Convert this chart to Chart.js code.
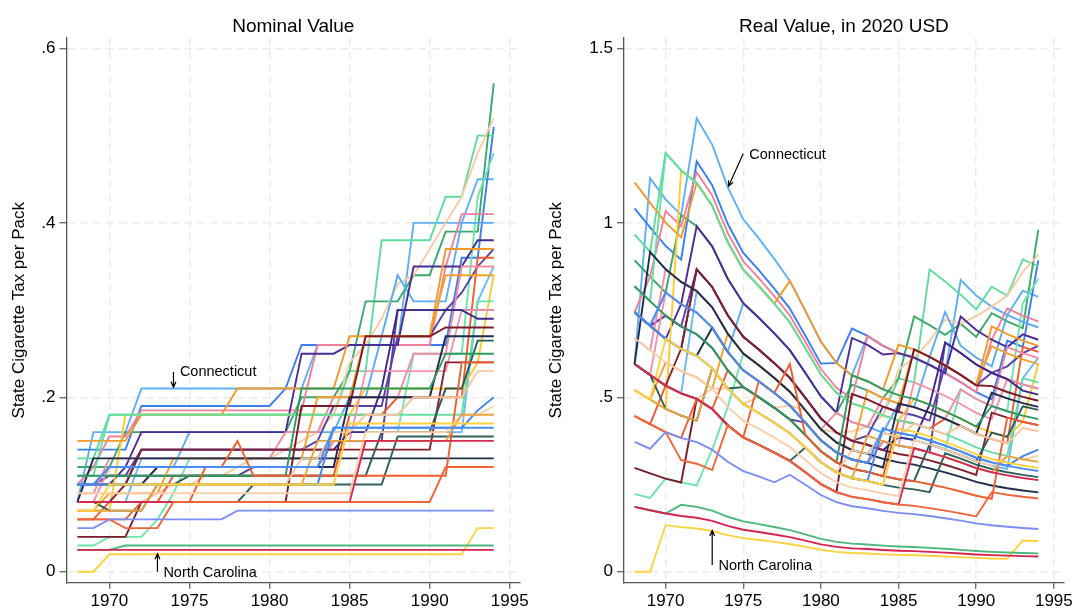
<!DOCTYPE html>
<html>
<head>
<meta charset="utf-8">
<title>State cigarette tax per pack</title>
<script src="https://cdn.jsdelivr.net/npm/chart.js@4.4.1/dist/chart.umd.min.js"></script>
<style>
  html, body { margin: 0; padding: 0; background: #fff; }
  #wrap { position: relative; width: 1075px; height: 612px; }
  canvas { position: absolute; top: 0; }
  #nominal { left: 0; }
  #real { left: 537px; }
</style>
</head>
<body>
<div id="wrap">
  <canvas id="nominal" width="537" height="612"></canvas>
  <canvas id="real" width="538" height="612"></canvas>
</div>
<script>
// ---- data: state cigarette tax per pack, nominal USD, 1968-1994 ----
const years = [1968, 1969, 1970, 1971, 1972, 1973, 1974, 1975, 1976, 1977, 1978, 1979, 1980,
  1981, 1982, 1983, 1984, 1985, 1986, 1987, 1988, 1989, 1990, 1991, 1992, 1993, 1994];

// CPI multiplier to 2020 dollars, same years
const cpiTo2020 = [7.44, 7.05, 6.67, 6.39, 6.19, 5.83, 5.25, 4.81, 4.55, 4.27, 3.97, 3.56, 3.14,
  2.85, 2.68, 2.60, 2.49, 2.41, 2.36, 2.28, 2.19, 2.09, 1.98, 1.90, 1.84, 1.79, 1.75];

const connecticut = [0.08, 0.16, 0.16, 0.16, 0.21, 0.21, 0.21, 0.21, 0.21, 0.21, 0.21, 0.21, 0.21, 0.21, 0.21, 0.26, 0.26, 0.26, 0.26, 0.26, 0.26, 0.40, 0.40, 0.40, 0.40, 0.45, 0.45];
const northCarolina = [0, 0, 0.02, 0.02, 0.02, 0.02, 0.02, 0.02, 0.02, 0.02, 0.02, 0.02, 0.02, 0.02, 0.02, 0.02, 0.02, 0.02, 0.02, 0.02, 0.02, 0.02, 0.02, 0.02, 0.02, 0.05, 0.05];
const st02 = [0.14, 0.14, 0.14, 0.14, 0.19, 0.19, 0.19, 0.19, 0.19, 0.19, 0.19, 0.19, 0.19, 0.21, 0.26, 0.26, 0.26, 0.26, 0.26, 0.26, 0.26, 0.26, 0.26, 0.26, 0.36, 0.36, 0.51];
const st03 = [0.13, 0.13, 0.18, 0.18, 0.18, 0.18, 0.18, 0.18, 0.18, 0.18, 0.18, 0.18, 0.18, 0.18, 0.18, 0.18, 0.18, 0.23, 0.23, 0.38, 0.38, 0.38, 0.38, 0.43, 0.43, 0.50, 0.50];
const st04 = [0.12, 0.12, 0.12, 0.16, 0.16, 0.16, 0.16, 0.16, 0.16, 0.16, 0.16, 0.16, 0.16, 0.16, 0.20, 0.20, 0.20, 0.23, 0.31, 0.31, 0.31, 0.34, 0.34, 0.39, 0.39, 0.39, 0.56];
const st05 = [0.08, 0.08, 0.08, 0.08, 0.08, 0.09, 0.10, 0.10, 0.11, 0.11, 0.12, 0.13, 0.13, 0.14, 0.15, 0.16, 0.18, 0.24, 0.26, 0.29, 0.33, 0.34, 0.37, 0.40, 0.43, 0.48, 0.52];
const st06 = [0.03, 0.03, 0.04, 0.04, 0.04, 0.06, 0.09, 0.13, 0.13, 0.13, 0.13, 0.13, 0.13, 0.13, 0.13, 0.13, 0.16, 0.16, 0.16, 0.16, 0.16, 0.25, 0.25, 0.25, 0.25, 0.43, 0.48];
const st07 = [0.10, 0.12, 0.155, 0.155, 0.185, 0.185, 0.185, 0.185, 0.185, 0.185, 0.185, 0.185, 0.185, 0.185, 0.185, 0.26, 0.26, 0.26, 0.26, 0.26, 0.26, 0.26, 0.26, 0.35, 0.41, 0.41, 0.41];
const st08 = [0.10, 0.10, 0.12, 0.12, 0.12, 0.12, 0.12, 0.16, 0.16, 0.16, 0.16, 0.16, 0.16, 0.16, 0.16, 0.16, 0.16, 0.20, 0.20, 0.27, 0.34, 0.31, 0.31, 0.31, 0.40, 0.40, 0.40];
const st09 = [0.10, 0.10, 0.10, 0.12, 0.16, 0.16, 0.16, 0.16, 0.16, 0.16, 0.16, 0.16, 0.16, 0.16, 0.25, 0.25, 0.25, 0.26, 0.26, 0.26, 0.26, 0.35, 0.35, 0.35, 0.35, 0.38, 0.38];
const st10 = [0.10, 0.10, 0.11, 0.11, 0.14, 0.14, 0.14, 0.14, 0.14, 0.14, 0.14, 0.14, 0.14, 0.14, 0.14, 0.15, 0.19, 0.19, 0.19, 0.19, 0.27, 0.27, 0.27, 0.30, 0.32, 0.35, 0.37];
const st11 = [0.06, 0.06, 0.08, 0.08, 0.08, 0.08, 0.11, 0.11, 0.11, 0.11, 0.11, 0.11, 0.11, 0.11, 0.11, 0.11, 0.11, 0.18, 0.18, 0.18, 0.20, 0.20, 0.20, 0.20, 0.20, 0.36, 0.36];
const st12 = [0.09, 0.09, 0.13, 0.13, 0.13, 0.13, 0.13, 0.13, 0.13, 0.13, 0.13, 0.13, 0.13, 0.16, 0.16, 0.16, 0.20, 0.20, 0.20, 0.20, 0.20, 0.25, 0.25, 0.25, 0.35, 0.35, 0.35];
const st13 = [0.07, 0.07, 0.07, 0.18, 0.18, 0.18, 0.18, 0.18, 0.18, 0.18, 0.18, 0.18, 0.18, 0.18, 0.18, 0.18, 0.18, 0.18, 0.21, 0.21, 0.21, 0.21, 0.21, 0.21, 0.21, 0.24, 0.34];
const st14 = [0.07, 0.07, 0.09, 0.09, 0.09, 0.09, 0.13, 0.13, 0.13, 0.13, 0.13, 0.13, 0.13, 0.13, 0.13, 0.20, 0.20, 0.20, 0.27, 0.27, 0.27, 0.27, 0.27, 0.34, 0.34, 0.34, 0.34];
const st15 = [0.15, 0.15, 0.15, 0.15, 0.18, 0.18, 0.18, 0.18, 0.18, 0.18, 0.21, 0.21, 0.21, 0.21, 0.21, 0.21, 0.21, 0.27, 0.27, 0.27, 0.27, 0.27, 0.27, 0.37, 0.37, 0.37, 0.37];
const st16 = [0.11, 0.11, 0.18, 0.18, 0.18, 0.18, 0.18, 0.18, 0.18, 0.18, 0.18, 0.18, 0.18, 0.18, 0.18, 0.18, 0.18, 0.18, 0.18, 0.18, 0.18, 0.18, 0.18, 0.18, 0.18, 0.31, 0.31];
const st17 = [0.08, 0.08, 0.12, 0.12, 0.12, 0.12, 0.12, 0.12, 0.12, 0.12, 0.12, 0.12, 0.12, 0.12, 0.12, 0.12, 0.15, 0.15, 0.23, 0.23, 0.23, 0.23, 0.23, 0.23, 0.30, 0.30, 0.30];
const st18 = [0.10, 0.10, 0.10, 0.10, 0.14, 0.14, 0.14, 0.14, 0.14, 0.14, 0.14, 0.14, 0.14, 0.14, 0.14, 0.14, 0.14, 0.16, 0.16, 0.21, 0.30, 0.30, 0.30, 0.30, 0.30, 0.29, 0.29];
const st19 = [0.04, 0.04, 0.04, 0.04, 0.08, 0.08, 0.08, 0.08, 0.08, 0.08, 0.08, 0.08, 0.08, 0.08, 0.19, 0.19, 0.19, 0.19, 0.27, 0.27, 0.27, 0.27, 0.27, 0.28, 0.28, 0.28, 0.28];
const st20 = [0.08, 0.08, 0.08, 0.10, 0.14, 0.14, 0.14, 0.14, 0.14, 0.14, 0.14, 0.14, 0.14, 0.14, 0.14, 0.14, 0.14, 0.14, 0.14, 0.14, 0.14, 0.14, 0.14, 0.24, 0.24, 0.24, 0.24];
const st21 = [0.10, 0.10, 0.10, 0.10, 0.10, 0.12, 0.12, 0.12, 0.12, 0.12, 0.12, 0.12, 0.12, 0.12, 0.12, 0.12, 0.12, 0.20, 0.20, 0.20, 0.20, 0.20, 0.20, 0.27, 0.27, 0.27, 0.27];
const st22 = [0.08, 0.13, 0.13, 0.13, 0.13, 0.13, 0.13, 0.13, 0.13, 0.13, 0.13, 0.13, 0.13, 0.13, 0.13, 0.13, 0.13, 0.13, 0.13, 0.13, 0.13, 0.13, 0.13, 0.13, 0.13, 0.13, 0.13];
const st23 = [0.08, 0.08, 0.07, 0.07, 0.07, 0.10, 0.10, 0.11, 0.11, 0.11, 0.11, 0.11, 0.11, 0.11, 0.11, 0.11, 0.11, 0.11, 0.11, 0.16, 0.16, 0.16, 0.16, 0.21, 0.21, 0.265, 0.265];
const st24 = [0.08, 0.08, 0.08, 0.08, 0.08, 0.08, 0.08, 0.08, 0.08, 0.08, 0.08, 0.10, 0.10, 0.10, 0.10, 0.10, 0.10, 0.10, 0.10, 0.10, 0.155, 0.155, 0.155, 0.155, 0.155, 0.155, 0.155];
const st25 = [0.11, 0.11, 0.11, 0.11, 0.11, 0.11, 0.11, 0.11, 0.11, 0.11, 0.11, 0.11, 0.11, 0.11, 0.21, 0.21, 0.21, 0.21, 0.21, 0.21, 0.21, 0.21, 0.21, 0.25, 0.25, 0.25, 0.25];
const st26 = [0.06, 0.06, 0.06, 0.06, 0.08, 0.08, 0.08, 0.08, 0.12, 0.12, 0.15, 0.11, 0.11, 0.11, 0.11, 0.11, 0.11, 0.11, 0.11, 0.11, 0.11, 0.11, 0.11, 0.11, 0.24, 0.24, 0.24];
const st27 = [0.10, 0.10, 0.10, 0.10, 0.10, 0.10, 0.10, 0.10, 0.10, 0.10, 0.10, 0.10, 0.10, 0.10, 0.13, 0.13, 0.16, 0.16, 0.18, 0.18, 0.18, 0.20, 0.20, 0.20, 0.20, 0.23, 0.23];
const st28 = [0.10, 0.10, 0.10, 0.10, 0.10, 0.10, 0.10, 0.10, 0.10, 0.10, 0.10, 0.10, 0.10, 0.10, 0.10, 0.10, 0.165, 0.165, 0.165, 0.165, 0.165, 0.165, 0.165, 0.165, 0.165, 0.185, 0.20];
const st29 = [0.09, 0.09, 0.09, 0.09, 0.09, 0.09, 0.09, 0.09, 0.09, 0.09, 0.09, 0.09, 0.09, 0.09, 0.09, 0.09, 0.09, 0.09, 0.16, 0.16, 0.16, 0.16, 0.16, 0.16, 0.18, 0.18, 0.19];
const st30 = [0.07, 0.07, 0.07, 0.07, 0.07, 0.10, 0.10, 0.10, 0.10, 0.10, 0.10, 0.10, 0.10, 0.10, 0.10, 0.15, 0.15, 0.15, 0.15, 0.15, 0.15, 0.15, 0.15, 0.15, 0.18, 0.18, 0.18];
const st31 = [0.07, 0.07, 0.10, 0.10, 0.10, 0.10, 0.10, 0.10, 0.10, 0.10, 0.10, 0.10, 0.10, 0.10, 0.10, 0.10, 0.10, 0.17, 0.17, 0.17, 0.17, 0.17, 0.17, 0.17, 0.17, 0.17, 0.17];
const st32 = [0.10, 0.10, 0.12, 0.12, 0.12, 0.12, 0.12, 0.12, 0.12, 0.12, 0.12, 0.12, 0.12, 0.12, 0.12, 0.12, 0.165, 0.165, 0.165, 0.165, 0.165, 0.165, 0.165, 0.165, 0.165, 0.165, 0.165];
const st33 = [0.08, 0.08, 0.08, 0.08, 0.08, 0.08, 0.08, 0.08, 0.08, 0.08, 0.08, 0.08, 0.08, 0.08, 0.08, 0.08, 0.08, 0.08, 0.15, 0.15, 0.15, 0.15, 0.15, 0.15, 0.15, 0.15, 0.15];
const st34 = [0.06, 0.06, 0.06, 0.05, 0.05, 0.05, 0.08, 0.08, 0.08, 0.08, 0.08, 0.08, 0.08, 0.08, 0.08, 0.08, 0.08, 0.08, 0.08, 0.08, 0.08, 0.08, 0.08, 0.12, 0.12, 0.12, 0.12];
const st35 = [0.05, 0.05, 0.06, 0.06, 0.06, 0.06, 0.06, 0.06, 0.06, 0.06, 0.07, 0.07, 0.07, 0.07, 0.07, 0.07, 0.07, 0.07, 0.07, 0.07, 0.07, 0.07, 0.07, 0.07, 0.07, 0.07, 0.07];
const st36 = [0.025, 0.025, 0.025, 0.03, 0.03, 0.03, 0.03, 0.03, 0.03, 0.03, 0.03, 0.03, 0.03, 0.03, 0.03, 0.03, 0.03, 0.03, 0.03, 0.03, 0.03, 0.03, 0.03, 0.03, 0.03, 0.03, 0.03];
const st37 = [0.025, 0.025, 0.025, 0.025, 0.025, 0.025, 0.025, 0.025, 0.025, 0.025, 0.025, 0.025, 0.025, 0.025, 0.025, 0.025, 0.025, 0.025, 0.025, 0.025, 0.025, 0.025, 0.025, 0.025, 0.025, 0.025, 0.025];
const st38 = [0.10, 0.10, 0.11, 0.11, 0.11, 0.11, 0.11, 0.11, 0.11, 0.11, 0.11, 0.12, 0.12, 0.12, 0.12, 0.12, 0.15, 0.15, 0.15, 0.15, 0.30, 0.30, 0.30, 0.30, 0.30, 0.30, 0.30];
const st39 = [0.08, 0.08, 0.08, 0.08, 0.13, 0.13, 0.13, 0.13, 0.13, 0.13, 0.13, 0.13, 0.13, 0.13, 0.13, 0.13, 0.16, 0.16, 0.16, 0.16, 0.16, 0.16, 0.16, 0.16, 0.16, 0.31, 0.35];

const stateSeries = [st37, st36, northCarolina, st35, st34, st33, st32, st31, st30, st29, st28,
  st27, st26, st25, st24, st23, st22, st21, st20, st19, st18, st17, st16, st15, st14, st13,
  st12, st11, st10, st09, st38, st08, st39, st07, st06, st05, st04, st03, st02, connecticut];

const lineColors = ['#d42550', '#4cb87d', '#fdd23c', '#7b8ef5', '#f06538', '#d52b52', '#4a8ef3',
  '#fed23e', '#e9a23c', '#f8d0ab', '#3f85ef', '#f6c69e', '#ef5d30', '#2f9a5e', '#30625d',
  '#2c5a58', '#1e2d4d', '#1b2b4b', '#861f2e', '#7a1b2c', '#3d2888', '#f393aa', '#63dfa4',
  '#f29a2a', '#f5a12c', '#fdca2f', '#f28ba3', '#f05a2c', '#5c3ea8', '#4a2d94', '#5a3aa2',
  '#5aaaf6', '#6cb8f7', '#f07f9c', '#6fe4ab', '#f9cba4', '#3aa86a', '#5edc9c', '#3a7ff0', '#5fb0f5'];

const xTicks = [1970, 1975, 1980, 1985, 1990, 1995];
const nominalTicks = [0, 0.2, 0.4, 0.6];
const realTicks = [0, 0.5, 1, 1.5];

const FONT = '"Liberation Sans", Arial, Helvetica, sans-serif';

// arrows with a label, anchored in data units
const arrowNotes = {
  id: 'arrowNotes',
  afterDatasetsDraw(chart, args, opts) {
    const { ctx, scales } = chart;
    const px = v => scales.x.getPixelForValue(v);
    const py = v => scales.y.getPixelForValue(v);
    ctx.save();
    ctx.strokeStyle = '#000';
    ctx.fillStyle = '#000';
    ctx.lineWidth = 1.2;
    ctx.font = '14.5px ' + FONT;
    ctx.textBaseline = 'middle';
    ctx.textAlign = 'left';
    for (const n of opts.items || []) {
      const x0 = px(n.tail[0]), y0 = py(n.tail[1]);
      const x1 = px(n.head[0]), y1 = py(n.head[1]);
      const a = Math.atan2(y1 - y0, x1 - x0);
      ctx.beginPath();
      ctx.moveTo(x0, y0);
      ctx.lineTo(x1, y1);
      ctx.moveTo(x1 - 6 * Math.cos(a - 0.42), y1 - 6 * Math.sin(a - 0.42));
      ctx.lineTo(x1, y1);
      ctx.lineTo(x1 - 6 * Math.cos(a + 0.42), y1 - 6 * Math.sin(a + 0.42));
      ctx.stroke();
      ctx.fillText(n.text, px(n.at[0]), py(n.at[1]));
    }
    ctx.restore();
  }
};

const tickLabel = v => (v === 0 ? '0' : String(v).replace(/^0\./, '.'));

function buildChart(canvasId, cfg) {
  const datasets = stateSeries.map((s, i) => ({
    data: years.map((yr, k) => ({ x: yr, y: cfg.value(s[k], k) })),
    borderColor: lineColors[i],
    borderWidth: 1.9,
    pointRadius: 0,
    tension: 0,
    fill: false
  }));
  return new Chart(document.getElementById(canvasId), {
    type: 'line',
    data: { datasets },
    plugins: [arrowNotes],
    options: {
      responsive: false,
      animation: false,
      devicePixelRatio: 1,
      layout: { padding: { left: 0, right: cfg.padRight, top: 0, bottom: 0 } },
      plugins: {
        legend: { display: false },
        tooltip: { enabled: false },
        title: {
          display: true,
          fullSize: false,
          text: cfg.title,
          color: '#000',
          font: { family: FONT, size: 19, weight: 'normal' },
          padding: { top: 15, bottom: 0 }
        },
        arrowNotes: { items: cfg.notes }
      },
      scales: {
        x: {
          type: 'linear',
          min: 1967.32,
          max: 1995.64,
          afterBuildTicks: s => { s.ticks = xTicks.map(v => ({ value: v })); },
          afterFit: s => { s.height = 29.3; },
          grid: { color: '#ececec', lineWidth: 1.5, tickLength: 6, tickColor: '#555', tickWidth: 1.2, tickBorderDash: [] },
          border: { display: true, color: '#555', width: 1.3, dash: [8, 5] },
          ticks: { color: '#000', font: { family: FONT, size: 17 }, padding: 2, maxRotation: 0, callback: v => String(v) }
        },
        y: {
          min: cfg.yMin,
          max: cfg.yMax,
          afterBuildTicks: s => { s.ticks = cfg.yTicks.map(v => ({ value: v })); },
          afterFit: s => { s.width = cfg.axisWidth; },
          grid: { color: '#ececec', lineWidth: 1.5, tickLength: 7, tickColor: '#555', tickWidth: 1.2, tickBorderDash: [] },
          border: { display: true, color: '#555', width: 1.3, dash: [8, 5] },
          ticks: { color: '#000', font: { family: FONT, size: 17 }, padding: 4, callback: tickLabel },
          title: {
            display: true,
            text: 'State Cigarette Tax per Pack',
            color: '#000',
            font: { family: FONT, size: 17 },
            padding: { top: 9, bottom: 0 }
          }
        }
      }
    }
  });
}

buildChart('nominal', {
  title: 'Nominal Value',
  value: v => v,
  yMin: -0.0126, yMax: 0.6122, yTicks: nominalTicks,
  axisWidth: 66.5, padRight: 17,
  notes: [
    { text: 'Connecticut', tail: [1974, 0.229], head: [1974, 0.2115], at: [1974.4, 0.229] },
    { text: 'North Carolina', tail: [1973, 0.0], head: [1973, 0.0205], at: [1973.37, -0.002] }
  ]
});

// real value: nominal tax times the CPI multiplier for that year
buildChart('real', {
  title: 'Real Value, in 2020 USD',
  value: (v, k) => v * cpiTo2020[k],
  yMin: -0.0315, yMax: 1.5305, yTicks: realTicks,
  axisWidth: 87, padRight: 9,
  notes: [
    { text: 'Connecticut', tail: [1975, 1.199], head: [1974.05, 1.105], at: [1975.39, 1.194] },
    { text: 'North Carolina', tail: [1973, 0.019], head: [1973, 0.118], at: [1973.41, 0.017] }
  ]
});
</script>
</body>
</html>
